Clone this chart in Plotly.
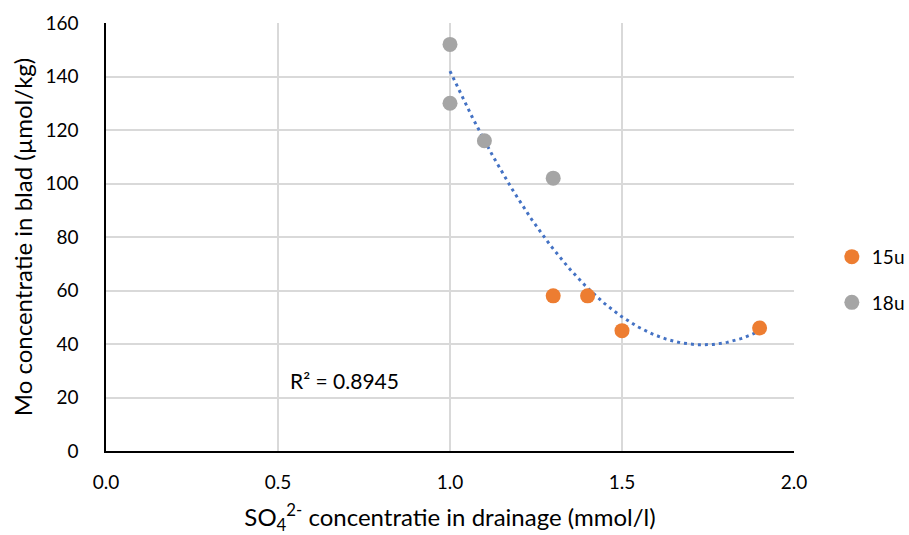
import numpy as np
import plotly.graph_objects as go

# Data
x_15u = [1.3, 1.4, 1.5, 1.9]
y_15u = [58, 58, 45, 46]
x_18u = [1.0, 1.0, 1.1, 1.3]
y_18u = [152, 130, 116, 102]
r2_text = "R² = 0.8945"
x_ticks = [0.0, 0.5, 1.0, 1.5, 2.0]
y_ticks = [0, 20, 40, 60, 80, 100, 120, 140, 160]

# Polynomial (order 2) trendline over all points
all_x = np.array(x_15u + x_18u)
all_y = np.array(y_15u + y_18u)
coef = np.polyfit(all_x, all_y, 2)
xt = np.linspace(all_x.min(), all_x.max(), 200)
yt = np.polyval(coef, xt)

FONT = "Lato, Open Sans, sans-serif"

fig = go.Figure()
fig.add_trace(go.Scatter(x=xt, y=yt, mode="lines", showlegend=False,
                         line=dict(color="#4472C4", width=3, dash="3px,4px"),
                         hoverinfo="skip"))
fig.add_trace(go.Scatter(x=x_15u, y=y_15u, mode="markers", name="15u", legendgroup="a",
                         marker=dict(color="#ED7D31", size=15)))
fig.add_trace(go.Scatter(x=x_18u, y=y_18u, mode="markers", name="18u", legendgroup="b",
                         marker=dict(color="#A5A5A5", size=15)))

fig.add_annotation(x=0.53, y=26.5, xref="x", yref="y", text=r2_text, showarrow=False,
                   xanchor="left", yanchor="middle", font=dict(size=21, color="#000", family=FONT))

fig.update_layout(
    width=909, height=535,
    margin=dict(l=106, r=115, t=23, b=84, autoexpand=False),
    paper_bgcolor="white", plot_bgcolor="white",
    font=dict(family=FONT, size=18, color="#000"),
    legend=dict(x=1.055, y=0.40, xanchor="left", yanchor="middle",
                traceorder="grouped", tracegroupgap=18, font=dict(size=19),
                itemwidth=30),
    xaxis=dict(range=[0, 2.0], tickvals=x_ticks, tickformat=".1f",
               showgrid=True, gridcolor="#D9D9D9", gridwidth=1.5,
               showline=True, linecolor="#000", linewidth=1.5,
               zeroline=False, ticks="", ticklabelstandoff=13,
               tickfont=dict(size=19),
               title=dict(text="SO<sub>4</sub><sup>2-</sup> concentratie in drainage (mmol/l)",
                          font=dict(size=24), standoff=18)),
    yaxis=dict(range=[0, 160], tickvals=y_ticks,
               showgrid=True, gridcolor="#D9D9D9", gridwidth=1.5,
               showline=True, linecolor="#000", linewidth=1.5,
               zeroline=False, ticks="", ticklabelstandoff=22,
               tickfont=dict(size=19),
               title=dict(text="Mo concentratie in blad (µmol/kg)", font=dict(size=24), standoff=6)),
)

fig.write_html("out.html")
